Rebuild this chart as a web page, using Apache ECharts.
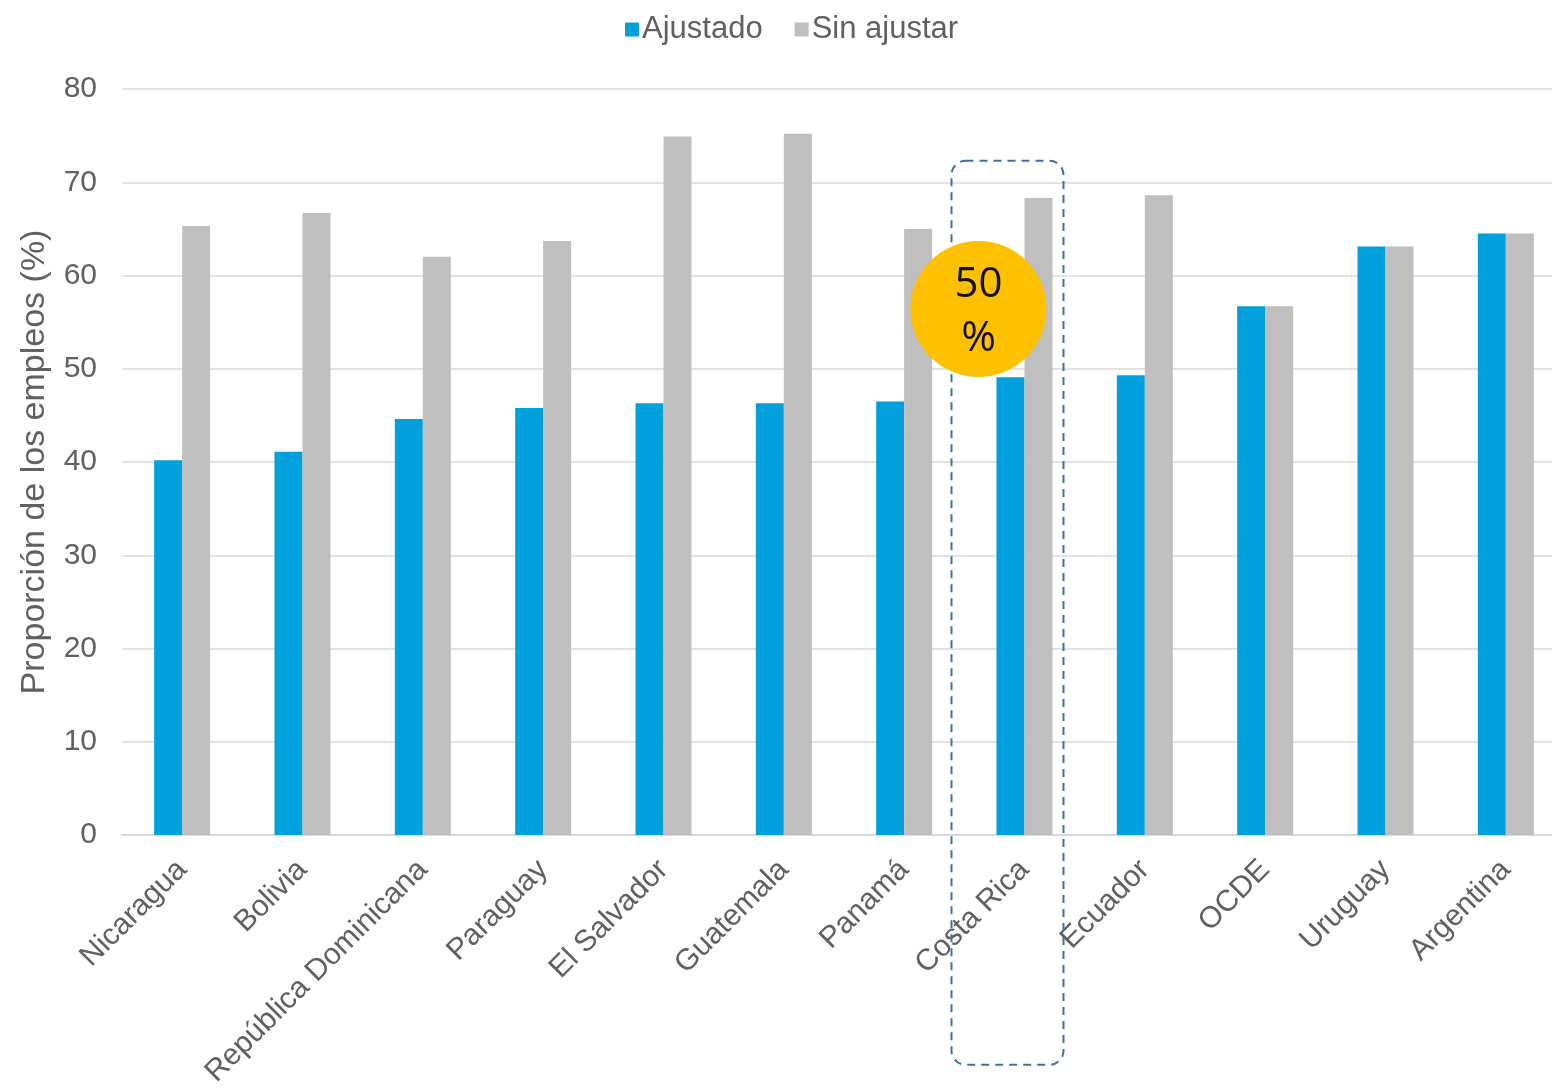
<!DOCTYPE html>
<html>
<head>
<meta charset="utf-8">
<script src="https://cdn.jsdelivr.net/npm/echarts@6/dist/echarts.min.js"></script>
<style>
html,body{margin:0;padding:0;background:#fff;}
#c{width:1552px;height:1092px;}
</style>
</head>
<body>
<div id="c"></div>
<script>
const categories = ["Nicaragua","Bolivia","República Dominicana","Paraguay","El Salvador","Guatemala","Panamá","Costa Rica","Ecuador","OCDE","Uruguay","Argentina"];
const ajustado = [40.2, 41.1, 44.6, 45.8, 46.3, 46.3, 46.5, 49.1, 49.3, 56.7, 63.1, 64.5];
const sinAjustar = [65.3, 66.7, 62.0, 63.7, 74.9, 75.2, 65.0, 68.3, 68.6, 56.7, 63.1, 64.5];
const yTicks = [0, 10, 20, 30, 40, 50, 60, 70, 80];
const highlightCategory = "Costa Rica";
const highlightText = "50\n%";

const txt = '#606060';
const font = '"Liberation Sans", Arial, sans-serif';
const chart = echarts.init(document.getElementById('c'));
chart.setOption({
  animation: false,
  textStyle: {fontFamily: font},
  legend: {
    left: 620, top: 9,
    itemWidth: 14, itemHeight: 14, itemGap: 32,
    icon: 'rect',
    textStyle: {fontSize: 31, color: txt, fontFamily: font, padding: [0,0,0,-2]},
    data: ['Ajustado','Sin ajustar']
  },
  grid: {left: 122, top: 89, width: 1444, height: 746, containLabel: false, outerBoundsMode: 'none'},
  xAxis: {
    type: 'category', data: categories,
    axisTick: {show: false},
    axisLine: {lineStyle: {color: '#d9d9d9', width: 2}},
    axisLabel: {rotate: 45, interval: 0, fontSize: 30, color: txt, margin: 30, fontFamily: font}
  },
  yAxis: {
    type: 'value', min: yTicks[0], max: yTicks[yTicks.length-1], interval: 10,
    name: 'Proporción de los empleos (%)', nameLocation: 'middle', nameGap: 70,
    nameTextStyle: {fontSize: 34, color: txt, fontFamily: font},
    axisLine: {show: false}, axisTick: {show: false},
    axisLabel: {fontSize: 30, color: txt, margin: 25, fontFamily: font},
    splitLine: {lineStyle: {color: '#e3e3e3', width: 2}}
  },
  series: [
    {name: 'Ajustado', type: 'bar', data: ajustado, barWidth: 28, barGap: '0%', itemStyle: {color: '#00a0dc'}},
    {name: 'Sin ajustar', type: 'bar', data: sinAjustar, barWidth: 28, itemStyle: {color: '#bfbfbf'}}
  ]
});

// annotation anchored on the highlighted category
const cx = chart.convertToPixel({xAxisIndex: 0}, highlightCategory);
const yTop = chart.convertToPixel({yAxisIndex: 0}, 72.3);
chart.setOption({
  graphic: [
    {type: 'rect', z: 100, shape: {x: cx - 73, y: yTop, width: 112, height: 904, r: 14},
     style: {fill: 'none', stroke: '#41719c', lineWidth: 2, lineDash: [8, 6]}},
    {type: 'circle', z: 101, shape: {cx: cx - 46, cy: 309, r: 68}, style: {fill: '#ffc000'}},
    {type: 'text', z: 102, x: cx - 46, y: 312,
     style: {text: highlightText, fontSize: 42, lineHeight: 54, fill: '#111', align: 'center', verticalAlign: 'middle', fontFamily: '"Open Sans", "Noto Sans", sans-serif'}}
  ]
});
</script>
</body>
</html>
